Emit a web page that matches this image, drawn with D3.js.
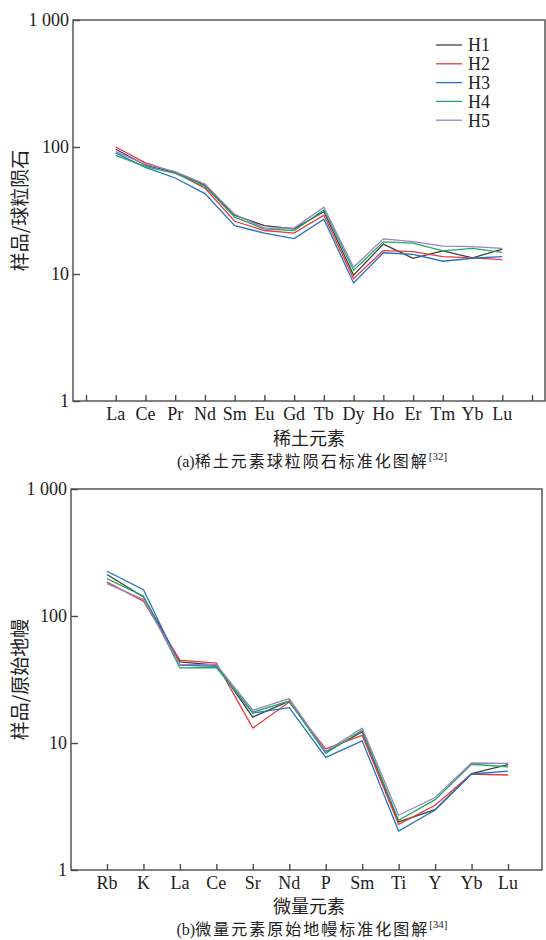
<!DOCTYPE html>
<html>
<head>
<meta charset="utf-8">
<script src="https://cdn.jsdelivr.net/npm/d3@7/dist/d3.min.js"></script>
<style>
  body { margin: 0; background: #fff; }
  text { font-family: "Liberation Serif", "DejaVu Serif", serif; fill: #222; }
  .cjk { font-family: "Noto Sans CJK SC", sans-serif; }
</style>
</head>
<body>
<div id="chart"></div>
<script>
// Define data

var series = ["H1", "H2", "H3", "H4", "H5"];
var colors = ["#404040", "#e8383d", "#2372c4", "#1eaa60", "#9b80c6"];

var reeElements = ["La", "Ce", "Pr", "Nd", "Sm", "Eu", "Gd", "Tb", "Dy", "Ho", "Er", "Tm", "Yb", "Lu"];
var reeH1 = [96, 72, 63, 50, 29, 24, 22.7, 31, 9.8, 17.2, 13.3, 15.2, 13.4, 15.7];
var reeH2 = [100, 75, 63, 47.5, 26, 22, 21, 29, 9.2, 15.3, 15, 13.7, 13.4, 13];
var reeH3 = [90, 69, 57, 43, 24, 21, 19, 27, 8.5, 14.7, 14.3, 12.6, 13.3, 13.7];
var reeH4 = [86, 70, 62, 49, 28, 22.7, 22, 32, 10.7, 17.9, 17.5, 15.2, 15.9, 14.8];
var reeH5 = [92, 73, 64, 51, 29.5, 23, 23, 33.5, 11.3, 18.9, 18, 16.6, 16.4, 15.9];

var traceElements = ["Rb", "K", "La", "Ce", "Sr", "Nd", "P", "Sm", "Ti", "Y", "Yb", "Lu"];
var traceH1 = [212, 141, 43.5, 41, 16, 21.4, 8.5, 12.2, 2.39, 2.99, 5.74, 6.76];
var traceH2 = [185, 131, 45, 42.6, 13.1, 21, 9.0, 11.5, 2.29, 3.23, 5.7, 5.6];
var traceH3 = [225, 161, 41, 40.2, 17.2, 19, 7.7, 10.4, 2.03, 2.97, 5.7, 6.0];
var traceH4 = [197, 143, 39, 39.3, 17.5, 21.4, 8.3, 12.6, 2.46, 3.58, 6.8, 6.5];
var traceH5 = [180, 135, 41.4, 41.4, 18.1, 22.4, 8.6, 13.1, 2.7, 3.72, 6.96, 6.9];

var yTicks = [1, 10, 100, 1000];
var yTickLabels = ["1", "10", "100", "1 000"];

var svg = d3.select("#chart")
    .append("svg")
    .attr("width", 546)
    .attr("height", 940);

function drawPanel(p) {
  var g = svg.append("g");

  // scales
  var yScale = d3.scaleLog()
      .domain([1, 1000])
      .range([p.bottom, p.top]);

  // top chart has an empty tick before the first and after the last element
  var tickDomain = p.padTicks ? ["_a"].concat(p.categories, ["_b"]) : p.categories;
  var xScale = d3.scalePoint()
      .domain(tickDomain)
      .range(p.tickRange);

  // frame
  g.append("rect")
    .attr("x", p.left)
    .attr("y", p.top)
    .attr("width", p.right - p.left)
    .attr("height", p.bottom - p.top)
    .attr("fill", "none")
    .attr("stroke", "#4a4a4a")
    .attr("stroke-width", 1.4);

  // y axis ticks (inward)
  var yAxis = g.append("g")
    .attr("transform", `translate(${p.left}, 0)`)
    .call(d3.axisRight(yScale)
      .tickValues(yTicks)
      .tickSize(7)
      .tickFormat(""));
  yAxis.select(".domain").remove();
  yAxis.selectAll("line").attr("stroke", "#4a4a4a").attr("stroke-width", 1.4);

  g.selectAll(".ylab")
    .data(yTicks)
    .enter().append("text")
    .attr("x", p.left - 4)
    .attr("y", function(d) { return yScale(d); })
    .attr("dy", "0.35em")
    .attr("text-anchor", "end")
    .style("font-size", "18px")
    .text(function(d, i) { return yTickLabels[i]; });

  // x axis ticks (inward)
  var xAxis = g.append("g")
    .attr("transform", `translate(0, ${p.bottom})`)
    .call(d3.axisTop(xScale).tickSize(6).tickFormat(""));
  xAxis.select(".domain").remove();
  xAxis.selectAll("line").attr("stroke", "#4a4a4a").attr("stroke-width", 1.4);

  g.selectAll(".xlab")
    .data(p.categories)
    .enter().append("text")
    .attr("x", function(d) { return xScale(d); })
    .attr("y", p.bottom + 19)
    .attr("text-anchor", "middle")
    .style("font-size", "18px")
    .text(function(d) { return d; });

  // lines
  var line = d3.line()
    .x(function(d, i) { return xScale(p.categories[i]); })
    .y(function(d) { return yScale(d); });

  p.values.forEach(function(vals, i) {
    g.append("path")
      .datum(vals)
      .attr("fill", "none")
      .attr("stroke", colors[i])
      .attr("stroke-width", 1.3)
      .attr("d", line);
  });

  // labels
  g.append("text")
    .attr("class", "cjk")
    .attr("x", 309)
    .attr("y", p.bottom + p.titleGap)
    .attr("text-anchor", "middle")
    .style("font-size", "18px")
    .text(p.xTitle);

  g.append("text")
    .attr("class", "cjk")
    .attr("transform", `translate(27, ${(p.top + p.bottom) / 2}) rotate(-90)`)
    .attr("text-anchor", "middle")
    .style("font-size", "19px")
    .text(p.yTitle);

  var cap = g.append("text")
    .attr("x", 312)
    .attr("y", p.bottom + p.capGap)
    .attr("text-anchor", "middle")
    .style("font-size", "16px");
  cap.append("tspan").text(p.capPrefix);
  cap.append("tspan").attr("class", "cjk").style("letter-spacing", "2px").text(p.caption);
  cap.append("tspan").attr("dy", -7).style("font-size", "11px").text(p.capRef);

  return { xScale: xScale, yScale: yScale };
}

drawPanel({
  top: 20, bottom: 401, left: 73, right: 545,
  tickRange: [86, 532], padTicks: true,
  categories: reeElements,
  values: [reeH1, reeH2, reeH3, reeH4, reeH5],
  titleGap: 44, capGap: 66,
  xTitle: "稀土元素", yTitle: "样品/球粒陨石",
  capPrefix: "(a)", caption: "稀土元素球粒陨石标准化图解", capRef: "[32]"
});

drawPanel({
  top: 489, bottom: 870, left: 71, right: 542,
  tickRange: [107, 508], padTicks: false,
  categories: traceElements,
  values: [traceH1, traceH2, traceH3, traceH4, traceH5],
  titleGap: 43, capGap: 65,
  xTitle: "微量元素", yTitle: "样品/原始地幔",
  capPrefix: "(b)", caption: "微量元素原始地幔标准化图解", capRef: "[34]"
});

// legend

var legend = svg.append("g")
  .attr("transform", "translate(436, 45)");

var rows = legend.selectAll("g")
  .data(series)
  .enter().append("g")
  .attr("transform", function(d, i) { return `translate(0, ${i * 18.8})`; });

rows.append("line")
  .attr("x1", 0)
  .attr("x2", 26)
  .attr("stroke", function(d, i) { return colors[i]; })
  .attr("stroke-width", 1.3);

rows.append("text")
  .attr("x", 32)
  .attr("dy", "0.35em")
  .style("font-size", "18px")
  .text(function(d) { return d; });
</script>
</body>
</html>
